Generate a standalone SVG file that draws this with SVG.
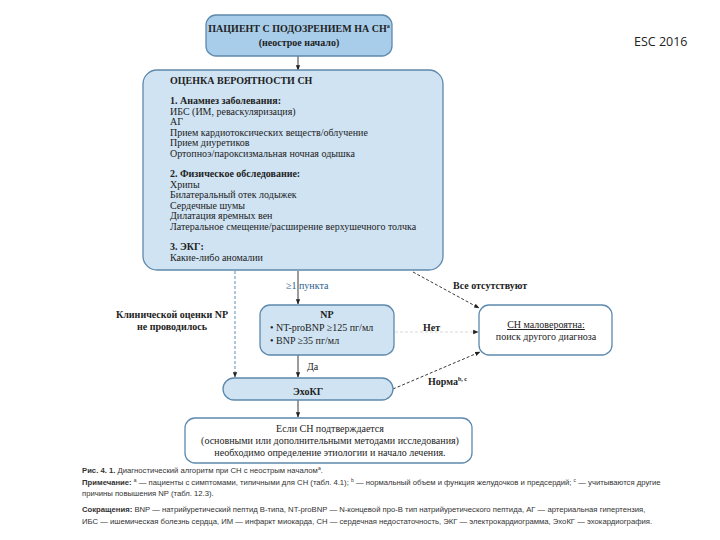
<svg xmlns="http://www.w3.org/2000/svg" width="720" height="540" viewBox="0 0 720 540">
<defs>
<marker id="ah" viewBox="0 0 10 10" refX="9" refY="5" markerWidth="6" markerHeight="6" orient="auto"><path d="M0,1 L10,5 L0,9 z" fill="#222"/></marker>
<style>
.t{font-family:"Liberation Serif","Times New Roman",serif;font-size:10px;fill:#222}
.b{font-weight:bold}
.c{font-family:"Liberation Sans",Arial,sans-serif;font-size:7.7px;fill:#333}
.box{fill:#cfe3f3;stroke:#5e89ad;stroke-width:1.3}
.dk{fill:#a7cdea;stroke:#5e89ad;stroke-width:1.3}
.wh{fill:#fff;stroke:#5e89ad;stroke-width:1.3}
.ln{stroke:#222;stroke-width:0.9;fill:none}
.ds{stroke:#222;stroke-width:0.9;fill:none;stroke-dasharray:3,2}
.dsb{stroke:#4a7fb0;stroke-width:0.9;fill:none;stroke-dasharray:3,2}
</style>
</defs>
<rect width="720" height="540" fill="#fff"/>
<text x="634" y="46" font-family="'Open Sans','Liberation Sans',sans-serif" font-size="12.5" fill="#222">ESC 2016</text>

<g id="connectors">
<line class="ln" x1="298" y1="56" x2="298" y2="70" marker-end="url(#ah)"/>
<line class="ln" x1="298" y1="271" x2="298" y2="304" marker-end="url(#ah)"/>
<line class="dsb" x1="235" y1="271" x2="235" y2="377" marker-end="url(#ah)"/>
<line class="ds" x1="413" y1="272" x2="479" y2="308" marker-end="url(#ah)"/>
<line class="ds" x1="395" y1="332" x2="478" y2="332" marker-end="url(#ah)" stroke-opacity="0.2"/>
<line class="ln" x1="298" y1="355" x2="298" y2="377" marker-end="url(#ah)"/>
<line class="ds" x1="393" y1="389" x2="480" y2="352" marker-end="url(#ah)"/>
<line class="ln" x1="298" y1="400" x2="298" y2="417" marker-end="url(#ah)"/>
<text class="t" x="286" y="289" font-size="9.5" style="fill:#2a5e8f">≥1 пункта</text>
<text class="t b" x="453" y="289" font-size="9.5">Все отсутствуют</text>
<text class="t b" x="423" y="331" font-size="9.5">Нет</text>
<text class="t" x="307" y="370" font-size="8.5">Да</text>
<text class="t b" x="428" y="385" font-size="9">Норма<tspan font-size="6" dy="-4">b, c</tspan></text>
<text class="t b" x="172" y="318" text-anchor="middle" font-size="9">Клинической оценки NP</text>
<text class="t b" x="172" y="330" text-anchor="middle" font-size="9">не проводилось</text>
</g>

<g id="n-patient">
<rect class="dk" x="206" y="15" width="186" height="41" rx="10"/>
<text class="t b" x="299" y="32" text-anchor="middle" font-size="9.5">ПАЦИЕНТ С ПОДОЗРЕНИЕМ НА СН<tspan font-size="6" dy="-4">a</tspan></text>
<text class="t b" x="299" y="46" text-anchor="middle" font-size="9">(неострое начало)</text>
</g>

<g id="n-assess">
<rect class="box" x="143" y="70" width="300" height="200" rx="14"/>
<text class="t b" x="170" y="84" font-size="9.5">ОЦЕНКА ВЕРОЯТНОСТИ СН</text>
<text class="t b" x="170" y="104">1. Анамнез заболевания:</text>
<text class="t" x="170" y="114.5">ИБС (ИМ, реваскуляризация)</text>
<text class="t" x="170" y="125">АГ</text>
<text class="t" x="170" y="135.5">Прием кардиотоксических веществ/облучение</text>
<text class="t" x="170" y="146">Прием диуретиков</text>
<text class="t" x="170" y="156.5">Ортопноэ/пароксизмальная ночная одышка</text>
<text class="t b" x="170" y="177">2. Физическое обследование:</text>
<text class="t" x="170" y="187.5">Хрипы</text>
<text class="t" x="170" y="198">Билатеральный отек лодыжек</text>
<text class="t" x="170" y="208.5">Сердечные шумы</text>
<text class="t" x="170" y="219">Дилатация яремных вен</text>
<text class="t" x="170" y="229.5">Латеральное смещение/расширение верхушечного толчка</text>
<text class="t b" x="170" y="250">3. ЭКГ:</text>
<text class="t" x="170" y="260.5">Какие-либо аномалии</text>
</g>

<g id="n-np">
<rect class="box" x="260" y="305" width="134" height="50" rx="10"/>
<text class="t b" x="327" y="318" text-anchor="middle">NP</text>
<text class="t" x="270" y="331">• NT-proBNP ≥125 пг/мл</text>
<text class="t" x="270" y="344">• BNP ≥35 пг/мл</text>
</g>

<g id="n-unlikely">
<rect class="wh" x="479" y="305" width="133" height="50" rx="10"/>
<text class="t" x="546" y="328" text-anchor="middle" text-decoration="underline">СН маловероятна:</text>
<text class="t" x="546" y="340" text-anchor="middle" font-size="9">поиск другого диагноза</text>
</g>

<g id="n-echo">
<rect class="box" x="223" y="378" width="170" height="22" rx="11"/>
<text class="t b" x="308" y="395" text-anchor="middle" font-size="14">ЭхоКГ</text>
</g>

<g id="n-confirm">
<rect class="wh" x="185" y="418" width="287" height="45" rx="10"/>
<text class="t" x="330" y="432" text-anchor="middle" font-size="9.5">Если СН подтверждается</text>
<text class="t" x="330" y="444" text-anchor="middle" font-size="9.5">(основными или дополнительными методами исследования)</text>
<text class="t" x="330" y="456" text-anchor="middle" font-size="9.5">необходимо определение этиологии и начало лечения.</text>
</g>

<g id="caption">
<text class="c" x="82" y="473"><tspan font-weight="bold">Рис. 4. 1.</tspan> Диагностический алгоритм при СН с неострым началом<tspan font-size="5" dy="-3">a</tspan><tspan dy="3">.</tspan></text>
<text class="c" x="82" y="485"><tspan font-weight="bold">Примечание:</tspan> <tspan font-size="5" dy="-3">a</tspan><tspan dy="3"> — пациенты с симптомами, типичными для СН (табл. 4.1); </tspan><tspan font-size="5" dy="-3">b</tspan><tspan dy="3"> — нормальный объем и функция желудочков и предсердий; </tspan><tspan font-size="5" dy="-3">c</tspan><tspan dy="3"> — учитываются другие</tspan></text>
<text class="c" x="82" y="496">причины повышения NP (табл. 12.3).</text>
<text class="c" x="82" y="512"><tspan font-weight="bold">Сокращения:</tspan> BNP — натрийуретический пептид B-типа, NT-proBNP — N-концевой про-B тип натрийуретического пептида, АГ — артериальная гипертензия,</text>
<text class="c" x="82" y="524">ИБС — ишемическая болезнь сердца, ИМ — инфаркт миокарда, СН — сердечная недостаточность, ЭКГ — электрокардиограмма, ЭхоКГ — эхокардиография.</text>
</g>
</svg>
